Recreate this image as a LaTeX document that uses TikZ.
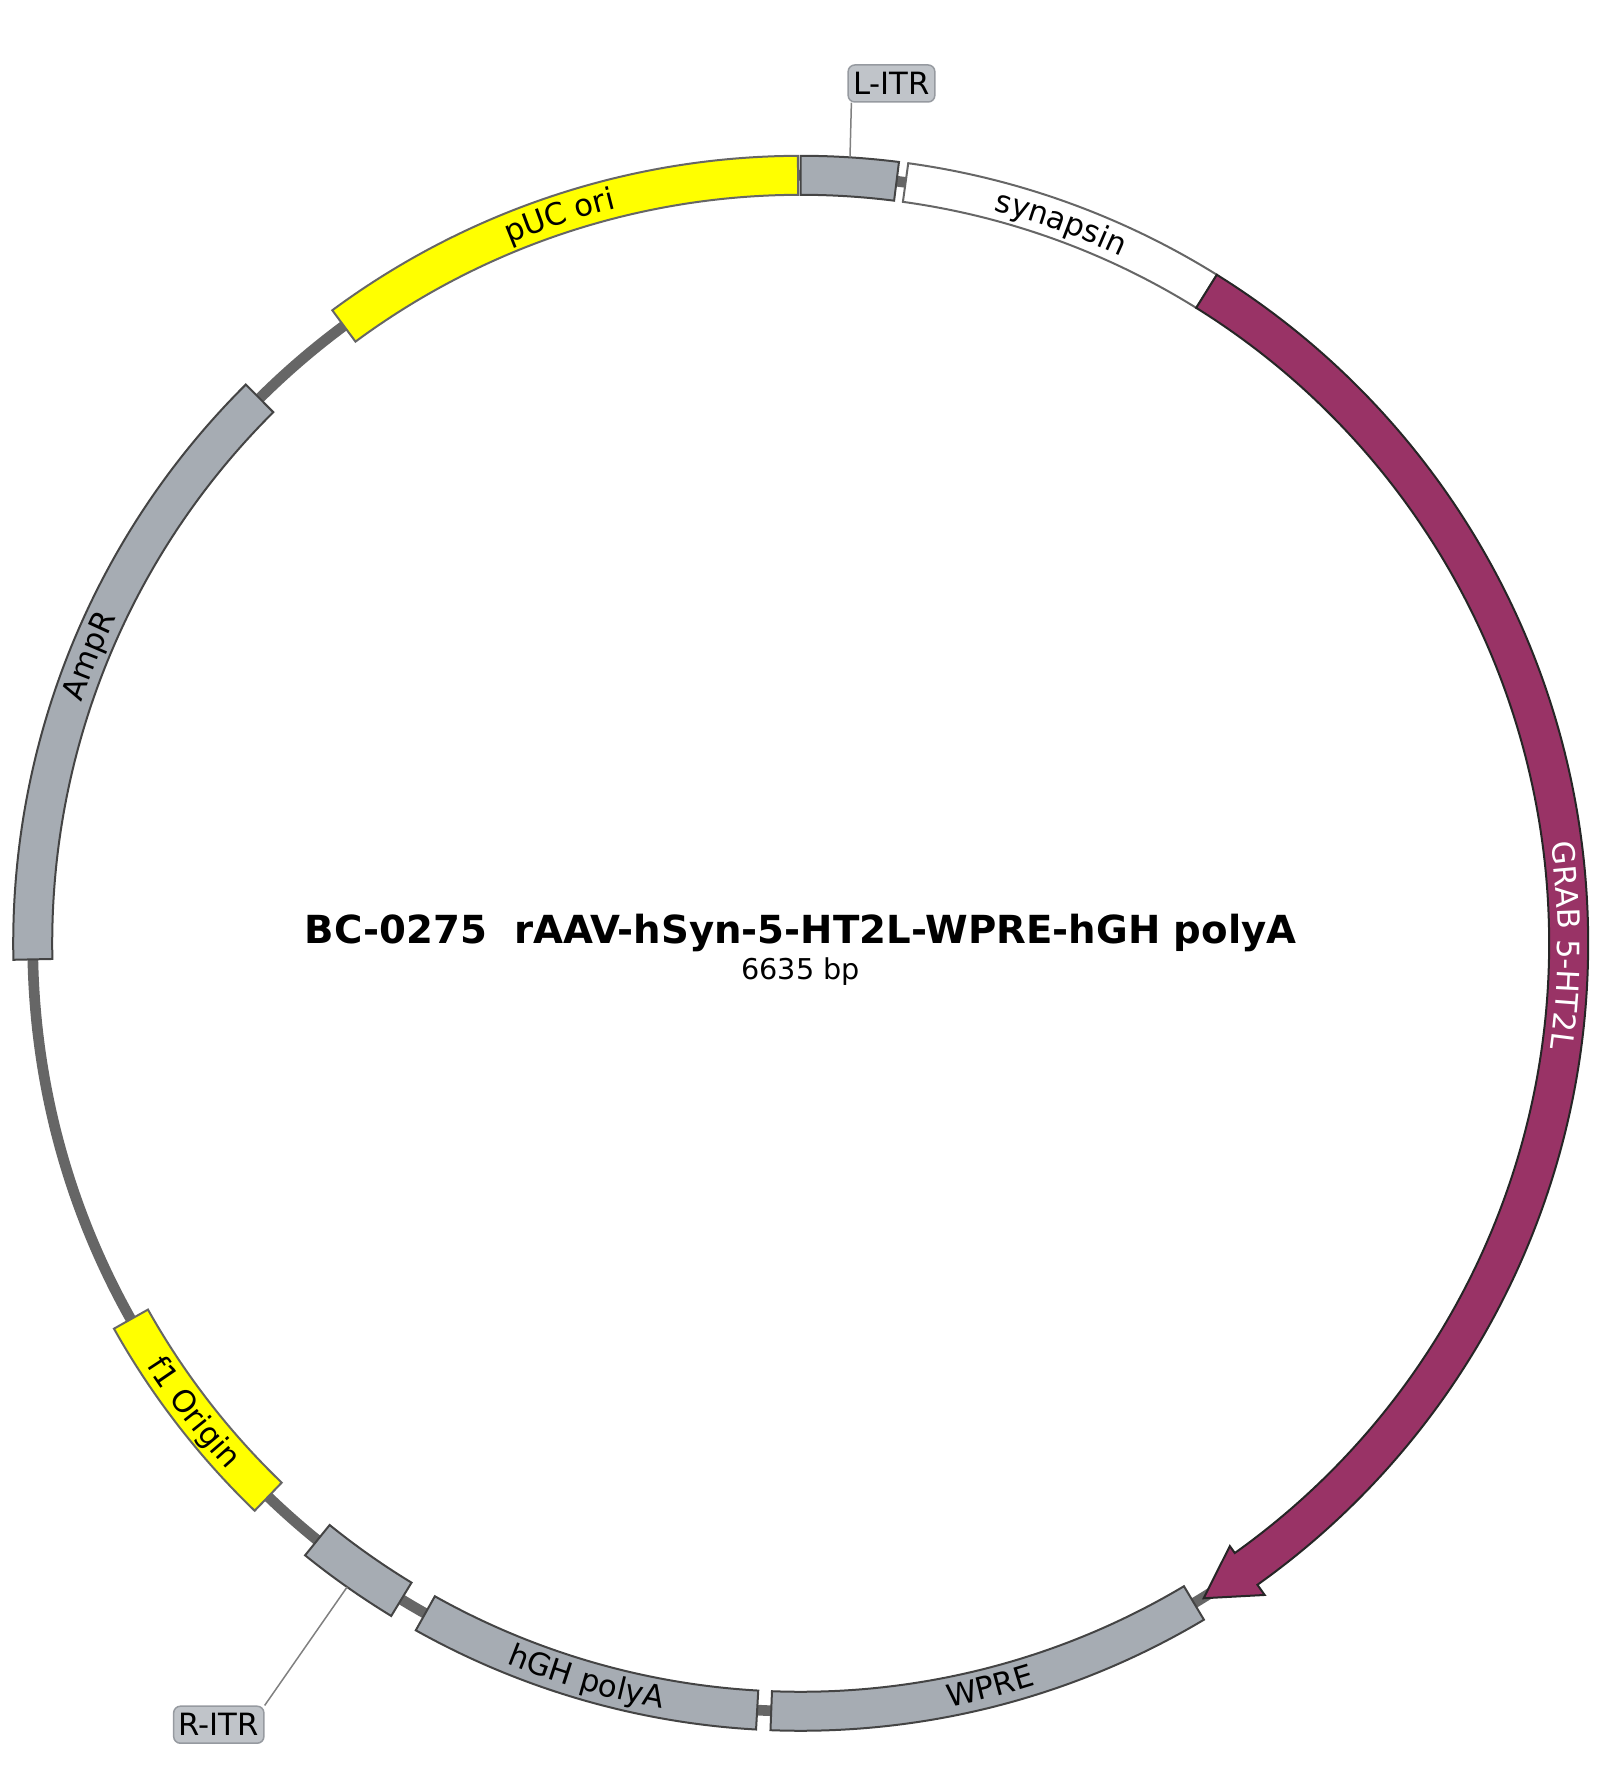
\documentclass[tikz,border=0pt]{standalone}
\usepackage{fontspec}
\setmainfont{DejaVu Sans}
\usetikzlibrary{decorations.text,calc}

\definecolor{featgray}{RGB}{166,172,179}
\definecolor{featline}{RGB}{68,68,68}
\definecolor{oriyellow}{RGB}{255,255,0}
\definecolor{grabpurple}{RGB}{153,51,102}
\definecolor{bbone}{RGB}{102,102,102}
\definecolor{tagfill}{RGB}{192,196,201}
\definecolor{tagedge}{RGB}{150,154,160}
\newcommand{\lblfont}{\fontsize{9.2}{11}\selectfont}
\newcommand{\ttlfont}{\fontsize{11.6}{14}\selectfont\bfseries}
\newcommand{\bpfont}{\fontsize{8.6}{10}\selectfont}

\begin{document}
\begin{tikzpicture}[x=0.3pt,y=0.3pt,
  gfeat/.style={fill=featgray,draw=featline,line width=0.6pt},
  yfeat/.style={fill=oriyellow,draw=bbone,line width=0.6pt},
  wfeat/.style={fill=white,draw=bbone,line width=0.6pt},
  grab/.style={fill=grabpurple,draw=black!85,line width=0.6pt},
  itrtag/.style={fill=tagfill,draw=tagedge,line width=0.45pt,rounded corners=2pt,
    inner xsep=1.5pt,inner ysep=0pt,minimum height=11.1pt,font=\lblfont},
  leader/.style={draw=gray,line width=0.45pt}]
\useasboundingbox (-800.7,-837.7) rectangle (805.3,943.3);
\newcommand{\ro}{787.5}
\newcommand{\ri}{748.5}
% backbone
\draw[bbone,line width=3.2pt] (0,0) circle (768);
% L-ITR
\draw[gfeat] (90:\ro) arc (90:82.83:\ro) -- (82.83:\ri) arc (82.83:90:\ri) -- cycle;
% synapsin
\draw[wfeat] (82.15:\ro) arc (82.15:58.1:\ro) -- (58.1:\ri) arc (58.1:82.15:\ri) -- cycle;
% GRAB 5-HT2L
\draw[grab] (58.1:\ro) arc (58.1:-54.55:\ro) -- (-54.55:800) -- (-58.4:769)
  -- (-54.55:740) -- (-54.55:\ri) arc (-54.55:58.1:\ri) -- cycle;
% WPRE
\draw[gfeat] (-59.2:\ro) arc (-59.2:-92.2:\ro) -- (-92.2:\ri) arc (-92.2:-59.2:\ri) -- cycle;
% hGH polyA
\draw[gfeat] (-93.25:\ro) arc (-93.25:-119.26:\ro) -- (-119.26:\ri) arc (-119.26:-93.25:\ri) -- cycle;
% R-ITR
\draw[gfeat] (-121.33:\ro) arc (-121.33:-129:\ro) -- (-129:\ri) arc (-129:-121.33:\ri) -- cycle;
% f1 Origin
\draw[yfeat] (-133.9:\ro) arc (-133.9:-150.7:\ro) -- (-150.7:\ri) arc (-150.7:-133.9:\ri) -- cycle;
% AmpR
\draw[gfeat] (181.2:\ro) arc (181.2:134.8:\ro) -- (134.8:\ri) arc (134.8:181.2:\ri) -- cycle;
% pUC ori
\draw[yfeat] (126.5:\ro) arc (126.5:90.2:\ro) -- (90.2:\ri) arc (90.2:126.5:\ri) -- cycle;

% labels on the ring
\path[decorate,decoration={text along path,text align=center,text={|\lblfont|synapsin}}]
  (82.15:758) arc (82.15:58.1:758);
\path[decorate,decoration={text along path,text align=center,text={|\lblfont\color{white}|GRAB 5-HT2L}}]
  (58.1:757) arc (58.1:-58.4:757);
\path[decorate,decoration={text along path,text align=center,text={|\lblfont|WPRE}}]
  (-92.2:778) arc (-92.2:-59.2:778);
\path[decorate,decoration={text along path,text align=center,text={|\lblfont|hGH polyA}}]
  (-119.26:778) arc (-119.26:-93.25:778);
\path[decorate,decoration={text along path,text align=center,text={|\lblfont|f1 Origin}}]
  (-150.7:779) arc (-150.7:-133.9:779);
\path[decorate,decoration={text along path,text align=center,text={|\lblfont|AmpR}}]
  (181.2:758) arc (181.2:134.8:758);
\path[decorate,decoration={text along path,text align=center,text={|\lblfont|pUC ori}}]
  (126.5:758) arc (126.5:90.2:758);

% ITR tags
\node[itrtag] (litrlab) at (90.8,859.8) {L-ITR};
\node[itrtag] (ritrlab) at (-581.9,-781.4) {R-ITR};
\coordinate (litrpt) at (86.41:\ro);
\coordinate (ritrpt) at (-125.17:\ro);
\draw[leader] (litrpt) -- ($(litrlab.south west)+(4,0)$);
\draw[leader] (ritrpt) -- (ritrlab.north east);

% name and size
\node[font=\ttlfont,anchor=base] (ttl) at (0,0) {BC-0275\ \ rAAV-hSyn-5-HT2L-WPRE-hGH polyA};
\node[font=\bpfont,anchor=base] (len) at (0,-36) {6635 bp};
\end{tikzpicture}
\end{document}
